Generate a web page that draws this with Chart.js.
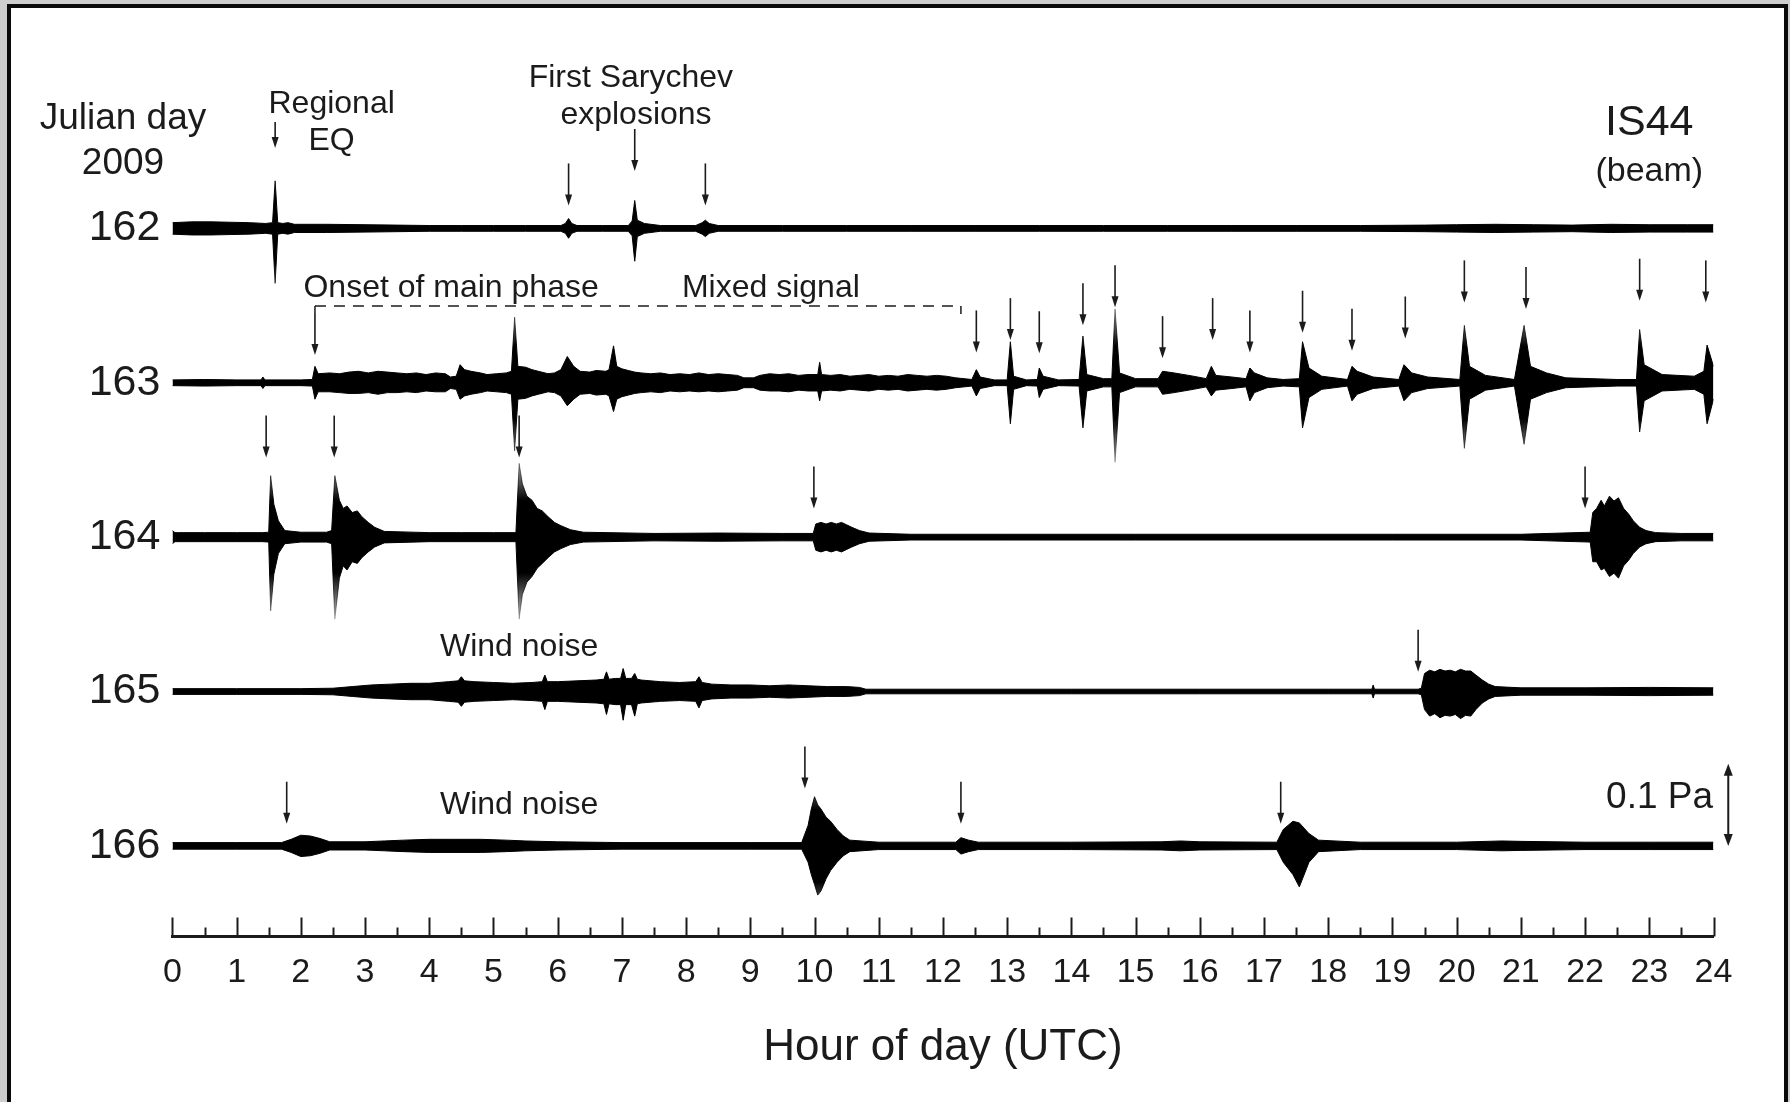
<!DOCTYPE html>
<html lang="en">
<head>
<meta charset="UTF-8">
<title>IS44 beam, Julian days 162-166 (2009)</title>
<script src="https://cdn.jsdelivr.net/npm/chart.js@4.4.1/dist/chart.umd.min.js"></script>
<style>
    html, body {
        margin: 0;
        padding: 0;
        overflow: hidden;
        background: #cdcdcd;
    }
    #frame {
        position: absolute;
        left: 7px;
        top: 4px;
        width: 1781px;
        height: 1120px;
        box-sizing: border-box;
        border: 4px solid #0a0a0a;
        background: #fff;
    }
    #chart {
        position: absolute;
        left: 0;
        top: 0;
    }
</style>
</head>
<body>
<div id="frame"></div>
<canvas id="chart" width="1790" height="1102"></canvas>

<script>
// Julian days shown, one trace each
const days = [162, 163, 164, 165, 166];
const hourTicks = [0, 1, 2, 3, 4, 5, 6, 7, 8, 9, 10, 11, 12, 13, 14, 15, 16, 17, 18, 19, 20, 21, 22, 23, 24];

// Envelope of each beam trace: hour of day, upper and lower amplitude (Pa)
const hours162 = [0, 0.3, 0.6, 0.9, 1.2, 1.45, 1.56, 1.6, 1.64, 1.72, 1.8, 1.9, 2.4, 3.0, 3.5, 4.0, 4.5, 5.0, 5.5, 6.05,
    6.12, 6.17, 6.22, 6.3, 6.7, 7.1, 7.16, 7.2, 7.24, 7.35, 7.6, 8.15, 8.25, 8.3, 8.36, 8.5, 9.5, 10.5, 11.5, 12.5,
    13.5, 14.5, 15.5, 16.5, 17.5, 18.5, 19.5, 20.0, 20.6, 21.2, 21.8, 22.4, 23.0, 23.6, 24];
const upper162 = [.007, .008, .008, .0075, .007, .006, .007, .058, .007, .006, .007, .005, .005, .0045, .004, .0035, .0035, .0035, .0035, .0035,
    .006, .012, .006, .0035, .0035, .0035, .009, .034, .010, .006, .0035, .0035, .007, .010, .006, .0035, .0035, .0035, .0035, .0035,
    .0035, .0035, .0035, .0035, .0035, .0035, .004, .0045, .005, .0045, .004, .005, .0045, .0045, .0045];
const lower162 = [.007, .008, .008, .0075, .007, .006, .007, .067, .007, .006, .007, .005, .005, .0045, .004, .0035, .0035, .0035, .0035, .0035,
    .006, .012, .006, .0035, .0035, .0035, .009, .040, .010, .006, .0035, .0035, .007, .010, .006, .0035, .0035, .0035, .0035, .0035,
    .0035, .0035, .0035, .0035, .0035, .0035, .004, .0045, .005, .0045, .004, .005, .0045, .0045, .0045];

const hours163 = [0, 0.5, 1.0, 1.38, 1.41, 1.44, 2.0, 2.18, 2.22, 2.27,
    2.45, 2.6, 2.75, 2.9, 3.05, 3.2, 3.35, 3.5, 3.65, 3.8,
    3.95, 4.1, 4.25, 4.33, 4.42, 4.48, 4.55, 4.65, 4.8, 4.9,
    5.05, 5.2, 5.28, 5.33, 5.38, 5.5, 5.6, 5.7, 5.85, 5.95,
    6.05, 6.15, 6.25, 6.35, 6.5, 6.6, 6.75, 6.8, 6.87, 6.92,
    7.0, 7.1, 7.2, 7.3, 7.45, 7.6, 7.75, 7.9, 8.05, 8.2,
    8.35, 8.5, 8.65, 8.8, 8.9, 9.05, 9.15, 9.3, 9.45, 9.6,
    9.75, 9.9, 10.05, 10.08, 10.11, 10.25, 10.4, 10.55, 10.7, 10.85,
    11.0, 11.15, 11.3, 11.45, 11.6, 11.75, 11.9, 12.05, 12.2, 12.45,
    12.52, 12.58, 12.8, 13.0, 13.05, 13.1, 13.3, 13.47, 13.5, 13.56,
    13.8, 14.12, 14.18, 14.24, 14.5, 14.63, 14.68, 14.75, 15.0, 15.35,
    15.42, 15.6, 15.9, 16.1, 16.18, 16.25, 16.5, 16.72, 16.78, 16.85,
    17.05, 17.3, 17.55, 17.6, 17.7, 17.9, 18.3, 18.37, 18.45, 18.7,
    19.1, 19.18, 19.3, 19.55, 20.05, 20.12, 20.2, 20.45, 20.9, 21.05,
    21.15, 21.4, 21.7, 22.5, 22.8, 22.85, 22.92, 23.2, 23.7, 23.85,
    23.9, 24.0];
const upper163 = [.0035, .004, .0035, .0035, .007, .0035, .0035, .004, .02, .011,
    .012, .011, .013, .014, .012, .014, .013, .012, .011, .012,
    .010, .012, .011, .007, .008, .022, .016, .014, .012, .010,
    .011, .012, .014, .08, .02, .019, .016, .014, .011, .012,
    .016, .032, .02, .014, .013, .015, .014, .016, .045, .02,
    .017, .015, .013, .012, .011, .012, .010, .011, .010, .012,
    .010, .011, .010, .009, .006, .006, .009, .011, .010, .011,
    .009, .010, .010, .025, .010, .009, .010, .008, .009, .010,
    .008, .009, .008, .010, .009, .008, .009, .008, .006, .004,
    .016, .007, .0035, .0035, .05, .008, .0035, .004, .018, .008,
    .0035, .004, .057, .01, .005, .005, .09, .012, .005, .005,
    .014, .012, .008, .005, .02, .009, .007, .005, .018, .012,
    .006, .004, .005, .05, .018, .008, .004, .02, .014, .007,
    .004, .022, .012, .007, .004, .07, .02, .009, .004, .07,
    .02, .012, .006, .004, .004, .065, .022, .01, .008, .014,
    .046, .02];
const lower163 = [.0035, .004, .0035, .0035, .007, .0035, .0035, .004, .02, .011,
    .011, .012, .013, .013, .012, .014, .012, .012, .011, .012,
    .010, .011, .011, .007, .008, .02, .016, .014, .012, .010,
    .011, .012, .014, .083, .02, .019, .016, .014, .011, .012,
    .016, .028, .02, .014, .013, .015, .014, .016, .035, .02,
    .017, .015, .013, .012, .011, .012, .010, .011, .010, .011,
    .010, .011, .010, .009, .006, .006, .009, .010, .010, .011,
    .009, .010, .010, .022, .010, .009, .010, .008, .009, .010,
    .008, .009, .008, .010, .009, .008, .009, .008, .006, .004,
    .016, .007, .0035, .0035, .05, .008, .0035, .004, .018, .008,
    .0035, .004, .055, .01, .005, .005, .097, .012, .005, .005,
    .014, .012, .008, .005, .016, .009, .007, .005, .022, .012,
    .006, .004, .005, .055, .018, .008, .004, .022, .014, .007,
    .004, .022, .012, .007, .004, .08, .02, .009, .004, .075,
    .02, .012, .006, .004, .004, .06, .022, .01, .008, .014,
    .05, .02];

const hours164 = [0, 0.04, 0.1, 0.5, 1.0, 1.4, 1.5, 1.53, 1.58, 1.65,
    1.75, 2.0, 2.4, 2.48, 2.53, 2.6, 2.66, 2.72, 2.8, 2.88,
    2.95, 3.05, 3.15, 3.3, 4.0, 4.5, 5.0, 5.35, 5.4, 5.45,
    5.52, 5.6, 5.68, 5.76, 5.85, 5.95, 6.05, 6.2, 6.4, 7.5,
    8.5, 9.5, 9.98, 10.02, 10.1, 10.18, 10.26, 10.34, 10.42, 10.5,
    10.58, 10.7, 10.85, 11.5, 13.0, 15.0, 17.0, 19.0, 21.0, 22.08,
    22.12, 22.18, 22.25, 22.3, 22.38, 22.45, 22.52, 22.6, 22.68, 22.75,
    22.85, 22.95, 23.1, 23.5, 24];
const upper164 = [.008, .0055, .0055, .0055, .0055, .0055, .006, .075, .04, .02,
    .008, .006, .006, .008, .075, .045, .035, .038, .03, .032,
    .025, .018, .012, .007, .0055, .0055, .0055, .0055, .09, .065,
    .05, .045, .035, .032, .025, .018, .014, .009, .006, .0045,
    .005, .0045, .0045, .016, .018, .016, .018, .016, .018, .015,
    .012, .008, .005, .0035, .0035, .0035, .0035, .0035, .0035, .006,
    .03, .035, .045, .038, .05, .044, .048, .035, .028, .02,
    .012, .008, .0055, .0045, .0045];
const lower164 = [.008, .0055, .0055, .0055, .0055, .0055, .006, .09, .045, .02,
    .008, .006, .006, .008, .1, .05, .035, .04, .03, .032,
    .025, .018, .012, .007, .0055, .0055, .0055, .0055, .1, .07,
    .055, .048, .038, .032, .025, .018, .014, .009, .006, .0045,
    .005, .0045, .0045, .016, .018, .016, .018, .016, .018, .015,
    .012, .008, .005, .0035, .0035, .0035, .0035, .0035, .0035, .006,
    .03, .03, .04, .038, .048, .044, .05, .035, .028, .02,
    .012, .008, .0055, .0045, .0045];

const hours165 = [0, 1, 2, 2.5, 2.8, 3.1, 3.4, 3.7, 4.0, 4.3,
    4.45, 4.5, 4.55, 4.7, 5.0, 5.3, 5.6, 5.76, 5.8, 5.84,
    6.0, 6.3, 6.6, 6.72, 6.76, 6.8, 6.9, 6.98, 7.02, 7.06,
    7.15, 7.2, 7.24, 7.3, 7.6, 7.9, 8.15, 8.2, 8.25, 8.4,
    8.7, 9.0, 9.3, 9.6, 9.9, 10.2, 10.5, 10.7, 10.8, 12,
    14, 16, 18, 18.68, 18.7, 18.72, 19.4, 19.45, 19.5, 19.58,
    19.66, 19.74, 19.82, 19.9, 19.98, 20.06, 20.14, 20.22, 20.3, 20.4,
    20.5, 20.6, 21, 22, 23, 24];
const upper165 = [.0035, .0035, .0035, .004, .006, .008, .009, .010, .010, .012,
    .013, .018, .013, .012, .011, .010, .011, .012, .02, .012,
    .012, .013, .014, .015, .024, .015, .016, .016, .028, .016,
    .016, .022, .015, .014, .012, .011, .012, .018, .011, .009,
    .008, .008, .007, .008, .007, .006, .006, .005, .0028, .0028,
    .0028, .0028, .0028, .0028, .008, .0028, .0028, .004, .022, .026,
    .024, .027, .025, .026, .024, .027, .025, .025, .02, .014,
    .009, .006, .0045, .0045, .005, .0045];
const lower165 = [.0035, .0035, .0035, .004, .006, .008, .009, .010, .010, .012,
    .013, .018, .013, .012, .011, .010, .011, .012, .022, .012,
    .012, .013, .014, .015, .028, .015, .016, .016, .035, .016,
    .016, .03, .015, .014, .012, .011, .012, .02, .011, .009,
    .008, .008, .007, .008, .007, .006, .006, .005, .0028, .0028,
    .0028, .0028, .0028, .0028, .008, .0028, .0028, .004, .022, .03,
    .027, .032, .029, .03, .028, .033, .029, .03, .022, .014,
    .009, .006, .0045, .0045, .005, .0045];

const hours166 = [0, 1, 1.7, 1.85, 2.0, 2.15, 2.3, 2.45, 3.0, 3.3,
    3.6, 4.0, 4.4, 4.8, 5.2, 5.5, 6.0, 7.0, 8.0, 9.0,
    9.8, 9.9, 9.95, 10.0, 10.05, 10.1, 10.18, 10.25, 10.35, 10.45,
    10.55, 11.0, 12.2, 12.28, 12.4, 12.55, 14.0, 15.4, 15.7, 16.0,
    17.2, 17.3, 17.45, 17.55, 17.7, 17.85, 18.5, 20.0, 20.7, 21.0,
    22.0, 23.0, 24];
const upper166 = [.004, .004, .004, .008, .013, .012, .009, .005, .005, .006,
    .007, .008, .008, .008, .007, .006, .005, .004, .004, .004,
    .004, .025, .045, .06, .05, .045, .035, .03, .02, .012,
    .007, .0045, .0045, .01, .007, .0045, .0045, .005, .006, .005,
    .0045, .02, .03, .028, .015, .007, .0045, .0045, .006, .0055,
    .0045, .0045, .0045];
const lower166 = [.004, .004, .004, .008, .013, .012, .009, .005, .005, .006,
    .007, .008, .008, .008, .007, .006, .005, .004, .004, .004,
    .004, .02, .035, .047, .06, .055, .04, .03, .02, .012,
    .007, .0045, .0045, .01, .007, .0045, .0045, .005, .006, .005,
    .0045, .02, .035, .05, .02, .007, .0045, .0045, .006, .0055,
    .0045, .0045, .0045];

// Arrowed events: [hour, height of arrow tip above the trace (Pa)]
const arrows162 = [[1.6, 0.098], [6.17, 0.028], [7.2, 0.07], [8.3, 0.028]];
const arrows163 = [[2.22, 0.034], [12.52, 0.037], [13.05, 0.052], [13.5, 0.036], [14.18, 0.07], [14.68, 0.092],
    [15.42, 0.03], [16.2, 0.052], [16.78, 0.037], [17.6, 0.061], [18.37, 0.039], [19.2, 0.054],
    [20.12, 0.098], [21.08, 0.09], [22.85, 0.1], [23.88, 0.098]];
const arrows164 = [[1.46, 0.097], [2.52, 0.097], [5.4, 0.097], [9.99, 0.035], [22.0, 0.035]];
const arrows165 = [[19.4, 0.024]];
const arrows166 = [[1.78, 0.027], [9.85, 0.07], [12.28, 0.027], [17.26, 0.027]];

const scaleBarPa = 0.1;

const traces = [
    [hours162, upper162, lower162, arrows162],
    [hours163, upper163, lower163, arrows163],
    [hours164, upper164, lower164, arrows164],
    [hours165, upper165, lower165, arrows165],
    [hours166, upper166, lower166, arrows166]
];

// one trace row is 154 px, 0.1 Pa is 82 px
const ROWS_PER_PA = 5.313;
const FONT = "'Liberation Sans', Arial, Helvetica, sans-serif";
const INK = '#1b1b1b';

// black core, fading tips on the big arrivals
function traceFill(day) {
    return function (ctx) {
        const chart = ctx.chart;
        if (!chart.chartArea) return '#000';
        const y0 = chart.scales.y.getPixelForValue(day);
        const g = chart.ctx.createLinearGradient(0, y0 - 100, 0, y0 + 100);
        g.addColorStop(0, 'rgba(0,0,0,0.06)');
        g.addColorStop(0.1, 'rgba(0,0,0,0.25)');
        g.addColorStop(0.32, '#000');
        g.addColorStop(0.68, '#000');
        g.addColorStop(0.9, 'rgba(0,0,0,0.25)');
        g.addColorStop(1, 'rgba(0,0,0,0.06)');
        return g;
    };
}

const datasets = [];
traces.forEach(([hours, up, down], i) => {
    const day = days[i];
    const paint = traceFill(day);
    datasets.push({
        label: day + ' upper',
        data: hours.map((h, k) => ({ x: h, y: day - up[k] * ROWS_PER_PA })),
        borderColor: paint,
        backgroundColor: paint,
        borderWidth: 1,
        pointRadius: 0,
        tension: 0,
        fill: '+1'
    });
    datasets.push({
        label: day + ' lower',
        data: hours.map((h, k) => ({ x: h, y: day + down[k] * ROWS_PER_PA })),
        borderColor: paint,
        borderWidth: 1,
        pointRadius: 0,
        tension: 0,
        fill: false
    });
});

// text placed in hour / day coordinates
const labels = [
    { text: 'Julian day', x: -0.77, y: 161.29, size: 37 },
    { text: '2009', x: -0.77, y: 161.583, size: 37 },
    { text: 'Regional', x: 2.48, y: 161.195, size: 32 },
    { text: 'EQ', x: 2.48, y: 161.438, size: 32 },
    { text: 'First Sarychev', x: 7.14, y: 161.024, size: 32 },
    { text: 'explosions', x: 7.22, y: 161.266, size: 32 },
    { text: 'IS44', x: 23.0, y: 161.318, size: 43 },
    { text: '(beam)', x: 23.0, y: 161.629, size: 34 },
    { text: 'Onset of main phase', x: 4.34, y: 162.387, size: 32 },
    { text: 'Mixed signal', x: 9.32, y: 162.387, size: 32 },
    { text: 'Wind noise', x: 5.4, y: 164.712, size: 32 },
    { text: 'Wind noise', x: 5.4, y: 165.735, size: 32 },
    { text: '0.1 Pa', x: 23.16, y: 165.689, size: 37 }
];

function arrowDown(c, x, tipY, len) {
    c.beginPath();
    c.moveTo(x, tipY - len);
    c.lineTo(x, tipY - 8);
    c.stroke();
    c.beginPath();
    c.moveTo(x - 3.5, tipY - 11);
    c.lineTo(x + 3.5, tipY - 11);
    c.lineTo(x, tipY);
    c.closePath();
    c.fill();
}

const annotations = {
    id: 'annotations',
    afterDraw(chart) {
        const c = chart.ctx;
        const xs = chart.scales.x;
        const ys = chart.scales.y;
        const area = chart.chartArea;
        c.save();
        c.strokeStyle = INK;
        c.fillStyle = INK;

        // upward hour ticks on the time axis
        c.lineWidth = 2;
        for (let h = 0; h <= 24; h += 0.5) {
            const px = Math.round(xs.getPixelForValue(h)) + 0.5;
            c.beginPath();
            c.moveTo(px, area.bottom);
            c.lineTo(px, area.bottom - (h % 1 === 0 ? 19 : 9));
            c.stroke();
        }

        // event arrows
        c.lineWidth = 1.6;
        traces.forEach((t, i) => {
            t[3].forEach(([h, lift], k) => {
                const px = xs.getPixelForValue(h);
                const tip = ys.getPixelForValue(days[i] - lift * ROWS_PER_PA);
                const len = (i === 0 && k === 0) ? 26 : 42;
                arrowDown(c, px, tip, len);
            });
        });

        // dashed bracket over the main phase
        const bx0 = xs.getPixelForValue(2.22);
        const bx1 = xs.getPixelForValue(12.28);
        const by = ys.getPixelForValue(162.503);
        const onsetTip = ys.getPixelForValue(163 - arrows163[0][1] * ROWS_PER_PA);
        c.lineWidth = 1.5;
        c.setLineDash([11, 8]);
        c.beginPath();
        c.moveTo(bx0, by);
        c.lineTo(bx1, by);
        c.stroke();
        c.setLineDash([]);
        c.beginPath();
        c.moveTo(bx0, by);
        c.lineTo(bx0, onsetTip - 42);
        c.moveTo(bx1, by);
        c.lineTo(bx1, by + 8);
        c.stroke();

        // amplitude scale bar
        const sx = xs.getPixelForValue(24.23);
        const sTop = ys.getPixelForValue(166 - scaleBarPa * ROWS_PER_PA);
        const sBot = ys.getPixelForValue(166);
        c.lineWidth = 2;
        c.beginPath();
        c.moveTo(sx, sTop + 8);
        c.lineTo(sx, sBot - 8);
        c.stroke();
        c.beginPath();
        c.moveTo(sx - 4.5, sTop + 12);
        c.lineTo(sx + 4.5, sTop + 12);
        c.lineTo(sx, sTop);
        c.closePath();
        c.fill();
        c.beginPath();
        c.moveTo(sx - 4.5, sBot - 12);
        c.lineTo(sx + 4.5, sBot - 12);
        c.lineTo(sx, sBot);
        c.closePath();
        c.fill();

        // text
        c.textAlign = 'center';
        c.textBaseline = 'middle';
        labels.forEach(l => {
            c.font = l.size + 'px ' + FONT;
            c.fillText(l.text, xs.getPixelForValue(l.x), ys.getPixelForValue(l.y));
        });
        c.restore();
    }
};

new Chart(document.getElementById('chart'), {
    type: 'line',
    data: { datasets: datasets },
    plugins: [annotations],
    options: {
        responsive: false,
        animation: false,
        events: [],
        layout: { padding: { top: 20, right: 76.5, bottom: 0, left: 0 } },
        plugins: {
            legend: { display: false },
            tooltip: { enabled: false }
        },
        scales: {
            x: {
                type: 'linear',
                min: 0,
                max: 24,
                afterFit: s => {
                    s.height = 165.5;
                    s.paddingLeft = 0;
                    s.paddingRight = 0;
                },
                afterBuildTicks: s => { s.ticks = hourTicks.map(v => ({ value: v })); },
                grid: { display: false, drawTicks: false },
                border: { display: true, color: INK, width: 3 },
                ticks: {
                    color: INK,
                    padding: 16,
                    maxRotation: 0,
                    autoSkip: false,
                    font: { family: FONT, size: 34 }
                },
                title: {
                    display: true,
                    text: 'Hour of day (UTC)',
                    color: INK,
                    font: { family: FONT, size: 44 },
                    padding: { top: 0, bottom: 27.5 }
                }
            },
            y: {
                type: 'linear',
                reverse: true,
                min: 160.65,
                max: 166.587,
                afterFit: s => {
                    s.width = 172.4;
                    s.paddingTop = 0;
                    s.paddingBottom = 0;
                },
                afterBuildTicks: s => { s.ticks = days.map(v => ({ value: v })); },
                grid: { display: false, drawTicks: false },
                border: { display: false },
                ticks: {
                    color: INK,
                    padding: 12,
                    font: { family: FONT, size: 43 },
                    callback: v => String(v)
                }
            }
        }
    }
});
</script>
</body>
</html>
